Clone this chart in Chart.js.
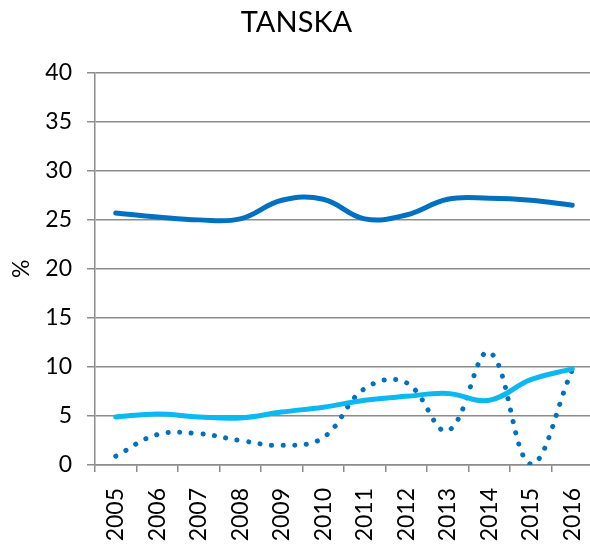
<!DOCTYPE html>
<html>
<head>
<meta charset="utf-8">
<script src="https://cdn.jsdelivr.net/npm/chart.js@4"></script>
<style>
  html, body { margin: 0; padding: 0; background: #fff; overflow: hidden; }
  #wrap { width: 590px; height: 546px; overflow: hidden; }
</style>
</head>
<body>
<div id="wrap"><canvas id="myGraph" width="600" height="546"></canvas></div>
<script>
/* DATOS */
const years = ["2005", "2006", "2007", "2008", "2009", "2010", "2011", "2012", "2013", "2014", "2015", "2016"];
const darkSeries = [25.7, 25.3, 25.0, 25.1, 27.0, 27.1, 25.1, 25.5, 27.1, 27.2, 27.0, 26.5];
const lightSeries = [4.9, 5.2, 4.9, 4.8, 5.4, 5.9, 6.6, 7.0, 7.3, 6.6, 8.7, 9.8];
const dottedSeries = [0.9, 3.1, 3.2, 2.5, 2.0, 2.8, 7.8, 8.4, 3.5, 11.5, 0.1, 9.7];
const yMin = 0, yMax = 40, yStep = 5;

const font = "Lato, 'Open Sans', sans-serif";
const gridColor = "#8c8c8c";

const chartDOM = document.getElementById("myGraph");
const config = {
  type: "line",
  data: {
    labels: years,
    datasets: [
      {
        data: darkSeries,
        borderColor: "#0070C0",
        borderWidth: 5,
        tension: 0.4,
        pointRadius: 0,
        borderCapStyle: "round",
      },
      {
        data: lightSeries,
        borderColor: "#0BB8EF",
        borderWidth: 5,
        tension: 0.4,
        pointRadius: 0,
        borderCapStyle: "round",
      },
      {
        data: dottedSeries,
        borderColor: "#0070C0",
        borderWidth: 5,
        borderDash: [0.1, 11.5],
        borderCapStyle: "round",
        tension: 0.4,
        pointRadius: 0,
      },
    ],
  },
  options: {
    responsive: false,
    animation: false,
    layout: { padding: { left: 0, right: 7, top: 0, bottom: 0 } },
    plugins: {
      legend: { display: false },
      tooltip: { enabled: false },
      title: {
        display: true,
        text: "TANSKA",
        color: "#000",
        font: { family: font, size: 29, weight: "normal" },
        padding: { top: 5, bottom: 33 },
      },
    },
    scales: {
      x: {
        offset: true,
        grid: {
          offset: true,
          drawOnChartArea: false,
          color: gridColor,
          lineWidth: 1.5,
          tickLength: 7,
        },
        border: { color: gridColor, width: 1.5 },
        ticks: {
          color: "#000",
          font: { family: font, size: 23 },
          maxRotation: 90,
          minRotation: 90,
          padding: 16,
        },
        afterFit: (scale) => {
          scale.height = 81;
          scale.paddingRight = 0;
        },
      },
      y: {
        min: yMin,
        max: yMax,
        ticks: {
          stepSize: yStep,
          color: "#000",
          font: { family: font, size: 23 },
          padding: 15,
        },
        grid: {
          color: gridColor,
          lineWidth: 1.5,
          tickLength: 8,
        },
        border: { color: gridColor, width: 1.5 },
        title: {
          display: true,
          text: "%",
          color: "#000",
          font: { family: font, size: 23 },
          padding: { top: 8, bottom: 0 },
        },
        afterFit: (scale) => { scale.width = 95; },
      },
    },
  },
};
new Chart(chartDOM, config);
</script>
</body>
</html>
